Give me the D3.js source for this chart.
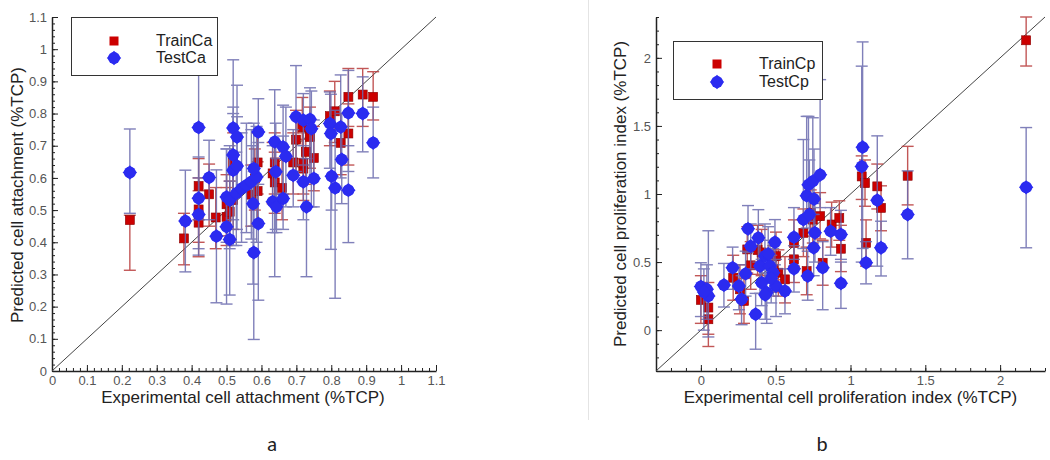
<!DOCTYPE html>
<html><head><meta charset="utf-8">
<script src="https://cdn.jsdelivr.net/npm/d3@7"></script>
<style>body{margin:0;background:#fff}svg{display:block}</style>
</head><body>
<svg id="c" width="1050" height="460"></svg>
<script>
// [x, y, errLow, errHigh]
const trainCa = [
[0.223,0.469,0.313,0.484],[0.378,0.412,0.33,0.49],[0.42,0.575,0.47,0.66],[0.42,0.502,0.40,0.60],
[0.42,0.461,0.355,0.56],[0.45,0.549,0.45,0.643],[0.469,0.477,0.38,0.57],[0.50,0.479,0.39,0.57],
[0.50,0.518,0.42,0.61],[0.509,0.495,0.40,0.59],[0.519,0.531,0.44,0.62],[0.519,0.647,0.55,0.74],
[0.571,0.548,0.45,0.64],[0.581,0.598,0.50,0.69],[0.589,0.559,0.46,0.65],[0.589,0.648,0.55,0.74],
[0.632,0.614,0.52,0.71],[0.638,0.648,0.55,0.74],[0.638,0.586,0.49,0.68],[0.659,0.569,0.47,0.66],
[0.691,0.648,0.55,0.74],[0.699,0.719,0.62,0.81],[0.717,0.757,0.66,0.85],[0.72,0.629,0.53,0.72],
[0.72,0.645,0.55,0.74],[0.727,0.681,0.58,0.78],[0.739,0.727,0.63,0.82],[0.75,0.662,0.56,0.76],
[0.796,0.792,0.70,0.87],[0.81,0.807,0.71,0.90],[0.827,0.709,0.61,0.80],[0.849,0.852,0.76,0.94],
[0.849,0.738,0.64,0.83],[0.89,0.859,0.76,0.94],[0.92,0.852,0.78,0.93]
];
const testCa = [
[0.223,0.617,0.49,0.752],[0.42,0.757,0.47,0.93],[0.42,0.537,0.38,0.665],[0.42,0.486,0.36,0.60],
[0.45,0.601,0.47,0.717],[0.382,0.466,0.308,0.624],[0.471,0.419,0.212,0.625],[0.50,0.448,0.208,0.69],
[0.509,0.409,0.236,0.59],[0.50,0.541,0.40,0.69],[0.519,0.671,0.47,0.82],[0.519,0.755,0.55,0.967],
[0.53,0.727,0.55,0.888],[0.519,0.624,0.39,0.80],[0.53,0.637,0.44,0.79],[0.509,0.531,0.38,0.70],
[0.528,0.552,0.39,0.68],[0.543,0.567,0.40,0.74],[0.557,0.577,0.43,0.77],[0.571,0.588,0.41,0.75],
[0.586,0.603,0.40,0.76],[0.578,0.629,0.45,0.77],[0.576,0.52,0.27,0.70],[0.578,0.368,0.098,0.62],
[0.591,0.458,0.22,0.71],[0.591,0.743,0.58,0.846],[0.638,0.712,0.293,0.874],[0.632,0.526,0.43,0.70],
[0.643,0.51,0.43,0.66],[0.641,0.619,0.44,0.77],[0.662,0.536,0.44,0.73],[0.662,0.696,0.55,0.826],
[0.67,0.667,0.51,0.82],[0.691,0.608,0.51,0.75],[0.699,0.79,0.62,0.949],[0.72,0.779,0.64,0.862],
[0.739,0.782,0.60,0.88],[0.743,0.753,0.51,0.87],[0.72,0.588,0.47,0.70],[0.729,0.51,0.293,0.66],
[0.75,0.598,0.51,0.78],[0.796,0.769,0.63,0.867],[0.799,0.738,0.378,0.86],[0.801,0.605,0.50,0.76],
[0.811,0.569,0.226,0.81],[0.827,0.758,0.60,0.92],[0.83,0.657,0.52,0.80],[0.849,0.562,0.399,0.70],
[0.849,0.802,0.62,0.934],[0.89,0.80,0.681,0.914],[0.92,0.709,0.60,0.82]
];
const trainCp = [
[0.0,0.222,0.05,0.40],[0.05,0.166,-0.03,0.35],[0.05,0.08,-0.12,0.26],[0.216,0.385,0.22,0.55],
[0.261,0.30,0.12,0.48],[0.288,0.215,0.05,0.38],[0.31,0.593,0.42,0.76],[0.333,0.476,0.30,0.65],
[0.379,0.588,0.41,0.77],[0.406,0.571,0.40,0.74],[0.484,0.451,0.28,0.62],[0.502,0.544,0.37,0.72],
[0.518,0.422,0.25,0.59],[0.562,0.373,0.20,0.54],[0.622,0.641,0.47,0.81],[0.622,0.52,0.35,0.69],
[0.685,0.715,0.54,0.89],[0.707,0.434,0.26,0.61],[0.734,0.861,0.69,1.03],[0.748,0.812,0.64,0.98],
[0.797,0.837,0.67,1.01],[0.814,0.495,0.33,0.66],[0.874,0.776,0.61,0.94],[0.925,0.824,0.66,0.95],
[0.936,0.598,0.43,0.77],[1.075,1.129,0.96,1.28],[1.097,1.08,0.91,1.25],[1.104,0.641,0.47,0.81],
[1.179,1.056,0.89,1.22],[1.204,0.898,0.73,1.06],[1.382,1.134,0.92,1.35],[2.174,2.129,1.94,2.30]
];
const testCp = [
[0.0,0.32,0.10,0.495],[0.04,0.30,0.08,0.48],[0.05,0.25,-0.05,0.73],[0.02,0.28,0.0,0.45],
[0.154,0.332,0.17,0.49],[0.212,0.459,0.30,0.61],[0.254,0.324,0.15,0.48],[0.272,0.227,0.04,0.40],
[0.299,0.415,0.25,0.58],[0.315,0.744,0.57,0.915],[0.333,0.617,0.45,0.78],[0.366,0.117,-0.14,0.27],
[0.384,0.678,0.50,0.885],[0.395,0.471,0.27,0.66],[0.406,0.349,0.18,0.52],[0.428,0.544,0.35,0.78],
[0.44,0.276,0.05,0.48],[0.462,0.471,0.28,0.66],[0.484,0.422,0.25,0.60],[0.495,0.646,0.48,0.812],
[0.502,0.324,0.10,0.52],[0.562,0.288,0.12,0.45],[0.622,0.451,0.28,0.62],[0.622,0.683,0.52,0.90],
[0.685,0.812,0.60,1.40],[0.714,0.398,0.22,0.58],[0.707,0.988,0.75,1.57],[0.719,1.068,0.80,1.57],
[0.748,1.093,0.85,1.56],[0.797,1.141,0.90,1.84],[0.756,0.963,0.72,1.33],[0.725,0.849,0.60,1.25],
[0.762,0.715,0.50,0.93],[0.754,0.605,0.40,0.85],[0.814,0.459,0.15,0.65],[0.867,0.727,0.55,0.90],
[0.936,0.702,0.52,0.88],[0.936,0.344,0.16,0.50],[1.081,1.344,0.60,2.117],[1.075,1.202,0.50,1.939],
[1.104,0.495,0.34,0.65],[1.179,0.954,0.47,1.427],[1.204,0.605,0.398,0.80],[1.382,0.849,0.524,1.17],
[2.174,1.049,0.605,1.488],[0.45,0.56,0.36,0.76],[0.47,0.38,0.20,0.55],[0.43,0.26,0.08,0.42]
];
const ticksA = [0,0.1,0.2,0.3,0.4,0.5,0.6,0.7,0.8,0.9,1,1.1];
const ticksB = [0,0.5,1,1.5,2];

const svg = d3.select("#c");
const FONT = "'Liberation Sans', Arial, sans-serif";
const RED = "#cc0000", BLUE = "#2b2bf0";
const RED_BAR = "#b83a3a", BLUE_BAR = "#6a6aae";

// separator
svg.append("line").attr("x1",588.5).attr("x2",588.5).attr("y1",0).attr("y2",420)
  .attr("stroke","#e4e4e4").attr("stroke-width",1);

function panel(o){
  const x = d3.scaleLinear().domain(o.dom).range([o.left,o.right]);
  const y = d3.scaleLinear().domain(o.dom).range([o.bottom,o.top]);
  const g = svg.append("g");
  const minor = d3.range(o.dom[0], o.dom[1]+1e-9, o.minor).map(v=>+v.toFixed(4));
  // minor ticks
  g.append("g").attr("transform",`translate(0,${o.bottom})`)
    .call(d3.axisBottom(x).tickValues(minor).tickSizeInner(-3).tickSizeOuter(0).tickFormat(""))
    .call(s=>s.select(".domain").remove());
  g.append("g").attr("transform",`translate(${o.left},0)`)
    .call(d3.axisLeft(y).tickValues(minor).tickSizeInner(-3).tickSizeOuter(0).tickFormat(""))
    .call(s=>s.select(".domain").remove());
  // major
  const xa = g.append("g").attr("transform",`translate(0,${o.bottom})`)
    .call(d3.axisBottom(x).tickValues(o.ticks).tickSizeInner(-6).tickSizeOuter(0).tickPadding(5).tickFormat(d3.format("~g")));
  const ya = g.append("g").attr("transform",`translate(${o.left},0)`)
    .call(d3.axisLeft(y).tickValues(o.ticks).tickSizeInner(-6).tickSizeOuter(0).tickPadding(5).tickFormat(d3.format("~g")));
  [xa,ya].forEach(a=>{
    a.selectAll("text").attr("font-family",FONT).attr("font-size",13).attr("fill","#555");
    a.selectAll("line").attr("stroke","#222");
    a.select(".domain").attr("stroke","#222").attr("stroke-width",1.5);
  });
  g.selectAll("line").attr("stroke","#222");
  // diagonal
  g.append("line").attr("x1",x(o.dom[0])).attr("y1",y(o.dom[0])).attr("x2",x(o.dom[1])).attr("y2",y(o.dom[1]))
    .attr("stroke","#444").attr("stroke-width",1);
  const cap = 6;
  function bars(data,color){
    const b = g.append("g").attr("stroke",color).attr("stroke-width",1.4).attr("opacity",0.85);
    data.forEach(d=>{
      const lo = Math.max(d[2],o.dom[0]), hi = Math.min(d[3],o.dom[1]);
      b.append("line").attr("x1",x(d[0])).attr("x2",x(d[0])).attr("y1",y(lo)).attr("y2",y(hi));
      b.append("line").attr("x1",x(d[0])-cap).attr("x2",x(d[0])+cap).attr("y1",y(lo)).attr("y2",y(lo));
      b.append("line").attr("x1",x(d[0])-cap).attr("x2",x(d[0])+cap).attr("y1",y(hi)).attr("y2",y(hi));
    });
  }
  function squares(sel,data){
    sel.selectAll(null).data(data).join("rect")
      .attr("x",d=>x(d[0])-4.5).attr("y",d=>y(d[1])-4.5).attr("width",9).attr("height",9)
      .attr("fill",RED).attr("stroke","#8a0000").attr("stroke-width",0.6);
  }
  function dots(sel,data){
    const gg = sel.selectAll(null).data(data).join("g")
      .attr("transform",d=>`translate(${x(d[0])},${y(d[1])})`);
    gg.append("circle").attr("r",6).attr("fill",BLUE);
    gg.append("path").attr("d","M0,-7.2L7.2,0L0,7.2L-7.2,0Z").attr("fill",BLUE);
  }
  bars(o.train,RED_BAR);
  squares(g.append("g"),o.train);
  bars(o.test,BLUE_BAR);
  dots(g.append("g"),o.test);
  // legend
  const L = o.legend;
  g.append("rect").attr("x",L.x).attr("y",L.y).attr("width",L.w).attr("height",L.h)
    .attr("fill","#fff").attr("stroke","#333").attr("stroke-width",1);
  g.append("rect").attr("x",L.mx-4.5).attr("y",L.y1-4.5).attr("width",9).attr("height",9).attr("fill",RED);
  const lg = g.append("g").attr("transform",`translate(${L.mx},${L.y2})`);
  lg.append("circle").attr("r",6).attr("fill",BLUE);
  lg.append("path").attr("d","M0,-7.2L7.2,0L0,7.2L-7.2,0Z").attr("fill",BLUE);
  g.append("text").attr("x",L.tx).attr("y",L.y1+5).text(o.names[0])
    .attr("font-family",FONT).attr("font-size",16).attr("fill","#222");
  g.append("text").attr("x",L.tx).attr("y",L.y2+5).text(o.names[1])
    .attr("font-family",FONT).attr("font-size",16).attr("fill","#222");
  // titles
  g.append("text").attr("x",(o.left+o.right)/2 + o.xtOff).attr("y",403).attr("text-anchor","middle")
    .attr("font-family",FONT).attr("font-size",17).attr("fill","#222").text(o.xt);
  g.append("text").attr("transform",`translate(${o.ytx},${o.yty}) rotate(-90)`).attr("text-anchor","middle")
    .attr("font-family",FONT).attr("font-size",17).attr("fill","#222").text(o.yt);
  g.append("text").attr("x",o.lx).attr("y",451).attr("text-anchor","middle")
    .attr("font-family","Carlito, Calibri, 'Liberation Sans', sans-serif").attr("font-size",21).attr("fill","#222").text(o.label);
}

panel({dom:[0,1.1], left:52, right:436, top:17, bottom:371, ticks:ticksA, minor:0.02,
  train:trainCa, test:testCa, names:["TrainCa","TestCa"],
  legend:{x:71.5,y:17.5,w:146,h:58,mx:114,y1:41,y2:58,tx:156},
  xt:"Experimental cell attachment (%TCP)", xtOff:-1, yt:"Predicted cell attachment (%TCP)", ytx:23, yty:195,
  lx:272, label:"a"});
panel({dom:[-0.3,2.3], left:656, right:1045, top:17, bottom:371, ticks:ticksB, minor:0.1,
  train:trainCp, test:testCp, names:["TrainCp","TestCp"],
  legend:{x:673.5,y:41.5,w:149,h:58,mx:717,y1:64,y2:82,tx:759},
  xt:"Experimental cell proliferation index (%TCP)", xtOff:0, yt:"Predicted cell proliferation index (%TCP)", ytx:626, yty:194,
  lx:822, label:"b"});
</script>
</body></html>
